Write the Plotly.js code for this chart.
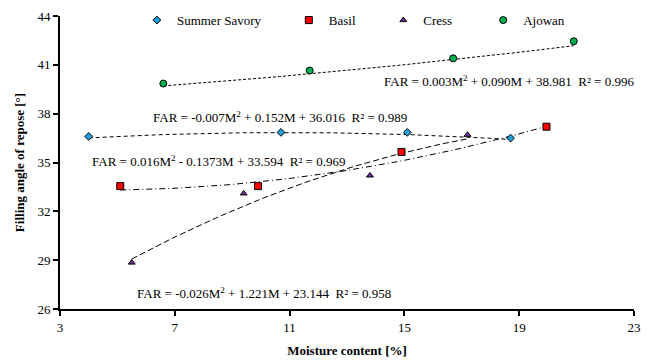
<!DOCTYPE html>
<html>
<head>
<meta charset="utf-8">
<script src="https://cdn.plot.ly/plotly-3.0.1.min.js"></script>
<style>html,body{margin:0;padding:0;background:#fff;}#chart{width:648px;height:364px;}</style>
</head>
<body>
<div id="chart"></div>
<script>
// Series data
const seriesNames = ["Summer Savory", "Basil", "Cress", "Ajowan"];
const savoryM = [4.0, 10.7, 15.1, 18.7];
const savoryFAR = [36.6, 36.85, 36.85, 36.5];
const basilM = [5.1, 9.9, 14.9, 19.95];
const basilFAR = [33.55, 33.55, 35.65, 37.2];
const cressM = [5.5, 9.4, 13.8, 17.2];
const cressFAR = [28.85, 33.1, 34.2, 36.7];
const ajowanM = [6.6, 11.7, 16.7, 20.9];
const ajowanFAR = [39.85, 40.65, 41.4, 42.45];

// Polynomial trendline coefficients [a, b, c] for FAR = a*M^2 + b*M + c (as printed on chart)
const savoryCoef = [-0.007, 0.152, 36.016];
const basilCoef = [0.016, -0.1373, 33.594];
const cressCoef = [-0.026, 1.221, 23.144];
const ajowanCoef = [0.003, 0.090, 38.981];

const equationTexts = [
  "FAR = -0.007M<sup>2</sup> + 0.152M + 36.016  R² = 0.989",
  "FAR = 0.016M<sup>2</sup> - 0.1373M + 33.594  R² = 0.969",
  "FAR = -0.026M<sup>2</sup> + 1.221M + 23.144  R² = 0.958",
  "FAR = 0.003M<sup>2</sup> + 0.090M + 38.981  R² = 0.996"
];

const xTicks = [3, 7, 11, 15, 19, 23];
const yTicks = [26, 29, 32, 35, 38, 41, 44];

function trend(coef, xs) {
  const lo = Math.min(...xs), hi = Math.max(...xs);
  const n = 60, tx = [], ty = [];
  for (let i = 0; i <= n; i++) {
    const m = lo + (hi - lo) * i / n;
    tx.push(m);
    ty.push(coef[0] * m * m + coef[1] * m + coef[2]);
  }
  return {x: tx, y: ty};
}

const FONT = "'Liberation Serif', 'Times New Roman', serif";
const NB = "\u00A0";
const legendPad = [7, 7, 8, 0];

const defs = [
  {name: seriesNames[0], x: savoryM, y: savoryFAR, coef: savoryCoef, symbol: "diamond", color: "#1E9FD8", size: 6, dash: "4px,3px"},
  {name: seriesNames[1], x: basilM, y: basilFAR, coef: basilCoef, symbol: "square", color: "#FF0000", size: 7, dash: "6px,3px,1px,3px"},
  {name: seriesNames[2], x: cressM, y: cressFAR, coef: cressCoef, symbol: "triangle-up", color: "#7030A0", size: 6, dash: "6px,3px"},
  {name: seriesNames[3], x: ajowanM, y: ajowanFAR, coef: ajowanCoef, symbol: "circle", color: "#00B050", size: 7, dash: "3px,2px"}
];

const traces = [];
defs.forEach(d => {
  const t = trend(d.coef, d.x);
  traces.push({x: t.x, y: t.y, mode: "lines", line: {color: "#000", width: 1, dash: d.dash}, showlegend: false, hoverinfo: "skip"});
});
defs.forEach((d, i) => {
  traces.push({x: d.x, y: d.y, mode: "markers", name: d.name + NB.repeat(legendPad[i]),
    marker: {symbol: d.symbol, color: d.color, size: d.size, line: {color: "#000", width: 1}}});
});

const annPos = [
  {x: 10.65, y: 37.8},
  {x: 8.52, y: 35.1},
  {x: 10.1, y: 27.0},
  {x: 18.66, y: 40.0}
];

const annotations = equationTexts.map((txt, i) => ({
  x: annPos[i].x, y: annPos[i].y, xref: "x", yref: "y", text: txt, showarrow: false,
  font: {family: FONT, size: 13, color: "#000"}, xanchor: "center", yanchor: "middle"
}));

const layout = {
  width: 648, height: 364,
  margin: {l: 60, r: 14, t: 16, b: 55, autoexpand: false},
  paper_bgcolor: "#fff", plot_bgcolor: "#fff",
  font: {family: FONT, size: 13, color: "#000"},
  showlegend: true,
  legend: {orientation: "h", x: 0.134, xanchor: "left", y: 1.037, yanchor: "top",
    font: {family: FONT, size: 13, color: "#000"}, bgcolor: "rgba(0,0,0,0)", itemwidth: 30,
    traceorder: "normal"},
  xaxis: {range: [3, 23], tickvals: xTicks, ticktext: xTicks.map(String), showgrid: false, zeroline: false,
    showline: true, linecolor: "#000", linewidth: 2, ticks: "outside", ticklen: 5, tickwidth: 2, tickcolor: "#000",
    tickfont: {family: FONT, size: 13},
    title: {text: "<b>Moisture content [%]</b>", font: {family: FONT, size: 13}, standoff: 12}},
  yaxis: {range: [26, 44], tickvals: yTicks, ticktext: yTicks.map(String), showgrid: false, zeroline: false,
    showline: true, linecolor: "#000", linewidth: 2, ticks: "outside", ticklen: 5, tickwidth: 2, tickcolor: "#000",
    tickfont: {family: FONT, size: 13},
    title: {text: "<b>Filling angle of repose [°]</b>", font: {family: FONT, size: 13}, standoff: 10}},
  annotations: annotations
};

Plotly.newPlot("chart", traces, layout, {displayModeBar: false, staticPlot: true});
</script>
</body>
</html>
